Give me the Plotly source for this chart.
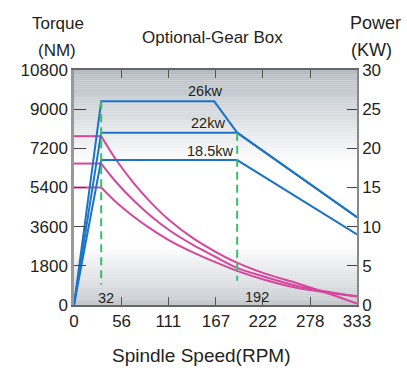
import plotly.graph_objects as go

# ---- data ----
rpm_ticks = [0, 56, 111, 167, 222, 278, 333]
torque_ticks = [0, 1800, 3600, 5400, 7200, 9000, 10800]
power_ticks = [0, 5, 10, 15, 20, 25, 30]

power_labels = ["26kw", "22kw", "18.5kw"]
p26_rpm = [0, 32, 165, 192, 333]
p26_kw = [0, 26, 26, 22, 11.2]
p22_rpm = [0, 32, 192, 333]
p22_kw = [0, 22, 22, 11.2]
p18_rpm = [0, 32, 192, 333]
p18_kw = [0, 18.5, 18.5, 9.0]

torque_rpm = [0, 32, 50, 70, 90, 113, 140, 165, 191, 225, 265, 300, 333]
t26 = [7760, 7760, 6650, 5610, 4730, 3870, 3070, 2480, 1960, 1440, 968, 520, 70]
t22 = [6500, 6500, 5630, 4810, 4100, 3410, 2760, 2240, 1720, 1290, 857, 600, 400]
t18 = [5400, 5400, 4710, 4070, 3510, 2950, 2420, 1990, 1580, 1150, 765, 560, 390]

guide_rpm = [32, 192]
guide_top_kw = [26, 22]
guide_bottom_kw = [2.6, 3.1]

BLUE = "#1c74c6"
MAGENTA = "#d6469c"
GREEN = "#3dba6c"
TXT = "#231f20"
FONT = "Liberation Sans, Arial, sans-serif"

fig = go.Figure()

# torque curves (left axis)
for t in (t26, t22, t18):
    fig.add_trace(go.Scatter(x=torque_rpm[:2], y=t[:2], mode="lines",
                             line=dict(color=MAGENTA, width=2), yaxis="y", showlegend=False))
    fig.add_trace(go.Scatter(x=torque_rpm[1:], y=t[1:], mode="lines",
                             line=dict(color=MAGENTA, width=2, shape="spline", smoothing=0.8),
                             yaxis="y", showlegend=False))

# power curves (right axis)
for xr, yk in ((p26_rpm, p26_kw), (p22_rpm, p22_kw), (p18_rpm, p18_kw)):
    fig.add_trace(go.Scatter(x=xr, y=yk, mode="lines", line=dict(color=BLUE, width=2),
                             yaxis="y2", showlegend=False))

# green dashed guides
for gx, gt, gb in zip(guide_rpm, guide_top_kw, guide_bottom_kw):
    fig.add_trace(go.Scatter(x=[gx, gx], y=[gt, gb], mode="lines",
                             line=dict(color=GREEN, width=2, dash="8px,5px"),
                             yaxis="y2", showlegend=False))

# gradient background
shapes = []
top_c = (180, 187, 194)
bot_c = (196, 200, 205)
n_top, top_start = 45, 0.60
for i in range(n_top):
    f0 = top_start + (1 - top_start) * i / n_top
    f1 = top_start + (1 - top_start) * (i + 1) / n_top
    a = (i + 0.5) / n_top
    c = tuple(int(round(255 + (tc - 255) * a)) for tc in top_c)
    shapes.append(dict(type="rect", xref="x domain", yref="y domain", x0=0, x1=1, y0=f0, y1=f1,
                       fillcolor=f"rgb{c}", line=dict(width=0), layer="below"))
n_bot, bot_end = 30, 0.25
for i in range(n_bot):
    f0 = bot_end * i / n_bot
    f1 = bot_end * (i + 1) / n_bot
    a = 1 - (i + 0.5) / n_bot
    c = tuple(int(round(255 + (bc - 255) * a)) for bc in bot_c)
    shapes.append(dict(type="rect", xref="x domain", yref="y domain", x0=0, x1=1, y0=f0, y1=f1,
                       fillcolor=f"rgb{c}", line=dict(width=0), layer="below"))

ann = []
def txt(text, x, y, size, xref="paper", yref="paper", xanchor="center"):
    ann.append(dict(text=text, x=x, y=y, xref=xref, yref=yref, showarrow=False,
                    xanchor=xanchor, yanchor="middle", font=dict(family=FONT, size=size, color=TXT)))

txt("Optional-Gear Box", 0.488, 1.14, 17)
txt("Torque", -0.057, 1.196, 17)
txt("(NM)", -0.06, 1.085, 17)
txt("Power", 1.064, 1.20, 18)
txt("(KW)", 1.05, 1.085, 18)
txt("Spindle Speed(RPM)", 0.449, -0.213, 19)

# power labels
txt(power_labels[0], 154, 27.3, 14.5, xref="x", yref="y2")
txt(power_labels[1], 158, 23.2, 14.5, xref="x", yref="y2")
txt(power_labels[2], 160, 19.7, 14.5, xref="x", yref="y2")
# guide speed labels
txt(str(guide_rpm[0]), guide_rpm[0] + 6, 0.95, 14.5, xref="x", yref="y2")
txt(str(guide_rpm[1]), guide_rpm[1] + 23, 1.0, 14.5, xref="x", yref="y2")

fig.update_layout(
    width=407, height=371,
    margin=dict(l=74, r=50, t=70, b=66),
    paper_bgcolor="white", plot_bgcolor="white",
    font=dict(family=FONT, color=TXT, size=17),
    shapes=shapes, annotations=ann,
    xaxis=dict(range=[0, 333], tickvals=rpm_ticks, ticktext=[str(v) for v in rpm_ticks],
               ticks="inside", ticklen=8, tickcolor="#555", tickwidth=1,
               showline=True, linecolor="#666", linewidth=2, mirror="ticks",
               showgrid=False, zeroline=False, tickfont=dict(size=17)),
    yaxis=dict(range=[0, 10800], tickvals=torque_ticks, ticktext=[str(v) for v in torque_ticks],
               ticks="inside", ticklen=12, tickcolor="#444", tickwidth=1,
               showline=True, linecolor="#999", linewidth=2.5,
               showgrid=False, zeroline=False, tickfont=dict(size=17)),
    yaxis2=dict(range=[0, 30], tickvals=power_ticks, ticktext=[str(v) for v in power_ticks],
                overlaying="y", side="right",
                ticks="inside", ticklen=10, tickcolor="#444", tickwidth=1,
                showline=True, linecolor="#888", linewidth=1.5,
                showgrid=False, zeroline=False, tickfont=dict(size=17)),
)

fig.write_html("out.html")
